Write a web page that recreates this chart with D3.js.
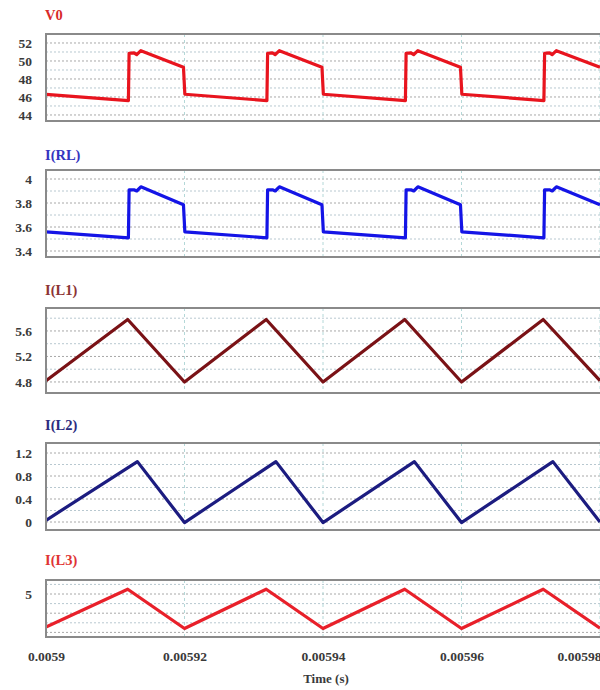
<!DOCTYPE html>
<html><head><meta charset="utf-8">
<script src="https://cdn.jsdelivr.net/npm/d3@7"></script>
<style>
body{margin:0;background:#fff;}
svg{display:block;}
text{font-family:"Liberation Serif","Times New Roman",serif;font-weight:bold;}
</style></head>
<body>
<svg id="chart" width="600" height="690"></svg>
<script>
// ---- data (time in microseconds) ----
const xTickValues = [0.0059, 0.00592, 0.00594, 0.00596, 0.00598];
const xTickLabels = ["0.0059", "0.00592", "0.00594", "0.00596", "0.00598"];
const xTitle = "Time (s)";

const v0Time   = [5900, 5911.9, 5912.0, 5912.7, 5913.1, 5913.7, 5919.85, 5920.05, 5931.9, 5932.0, 5932.7, 5933.1, 5933.7, 5939.85, 5940.05, 5951.9, 5952.0, 5952.7, 5953.1, 5953.7, 5959.85, 5960.05, 5971.9, 5972.0, 5972.7, 5973.1, 5973.7, 5980];
const v0Values = [46.3, 45.6, 50.85, 50.9, 50.7, 51.15, 49.3, 46.3, 45.6, 50.85, 50.9, 50.7, 51.15, 49.3, 46.3, 45.6, 50.85, 50.9, 50.7, 51.15, 49.3, 46.3, 45.6, 50.85, 50.9, 50.7, 51.15, 49.3];
const v0Ticks  = [44, 46, 48, 50, 52];

const rlTime   = [5900, 5911.9, 5912.0, 5912.7, 5913.1, 5913.7, 5919.85, 5920.05, 5931.9, 5932.0, 5932.7, 5933.1, 5933.7, 5939.85, 5940.05, 5951.9, 5952.0, 5952.7, 5953.1, 5953.7, 5959.85, 5960.05, 5971.9, 5972.0, 5972.7, 5973.1, 5973.7, 5980];
const rlValues = [3.56, 3.51, 3.91, 3.91, 3.9, 3.935, 3.785, 3.56, 3.51, 3.91, 3.91, 3.9, 3.935, 3.785, 3.56, 3.51, 3.91, 3.91, 3.9, 3.935, 3.785, 3.56, 3.51, 3.91, 3.91, 3.9, 3.935, 3.785];
const rlTicks  = [3.4, 3.6, 3.8, 4];
const rlTickLabels = ["3.4", "3.6", "3.8", "4"];

const l1Time   = [5900, 5911.8, 5920, 5931.8, 5940, 5951.8, 5960, 5971.8, 5980];
const l1Values = [4.82, 5.78, 4.8, 5.78, 4.8, 5.78, 4.8, 5.78, 4.82];
const l1Ticks  = [4.8, 5.2, 5.6];

const l2Time   = [5900, 5913.2, 5920, 5933.2, 5940, 5953.2, 5960, 5973.2, 5980];
const l2Values = [0.03, 1.05, -0.01, 1.05, -0.01, 1.05, -0.01, 1.05, 0.0];
const l2Ticks  = [0, 0.4, 0.8, 1.2];

const l3Time   = [5900, 5911.8, 5920, 5931.8, 5940, 5951.8, 5960, 5971.8, 5980];
const l3Values = [1.55, 5.5, 1.4, 5.5, 1.4, 5.5, 1.4, 5.5, 1.45];
const l3Ticks  = [5];

// ---- layout ----
const svg = d3.select("#chart");
const x = d3.scaleLinear().domain([0.0059, 0.00598]).range([46, 600]);
const boxLeft = 46, boxRight = 604;

const panels = [
  {label:"V0",    time:v0Time, values:v0Values, ticks:v0Ticks, fmt:d=>String(d), grid:[44,45,46,47,48,49,50,51,52], top:34,  bottom:121, domain:[43.33,53.0],  color:"#e8141e", labelColor:"#d82a2a", labelY:20},
  {label:"I(RL)", time:rlTime, values:rlValues, ticks:rlTicks, fmt:(d,i)=>rlTickLabels[i], grid:[3.4,3.5,3.6,3.7,3.8,3.9,4.0], top:170, bottom:257, domain:[3.35,4.075], color:"#1414e6", labelColor:"#3434c0", labelY:160},
  {label:"I(L1)", time:l1Time, values:l1Values, ticks:l1Ticks, fmt:d=>d.toFixed(1), grid:[4.8,5.0,5.2,5.4,5.6,5.8], top:308, bottom:393, domain:[4.627,5.96], color:"#7a1216", labelColor:"#8c3434", labelY:295},
  {label:"I(L2)", time:l2Time, values:l2Values, ticks:l2Ticks, fmt:d=>String(d), grid:[0,0.2,0.4,0.6,0.8,1.0,1.2], top:443, bottom:530, domain:[-0.139,1.374], color:"#1c1c80", labelColor:"#2c2c80", labelY:430},
  {label:"I(L3)", time:l3Time, values:l3Values, ticks:l3Ticks, fmt:d=>String(d), grid:[1,2,3,4,5,6], top:580, bottom:637, domain:[0.52,6.46], color:"#e8202a", labelColor:"#e03434", labelY:565}
];

panels.forEach((p, pi) => {
  const y = d3.scaleLinear().domain(p.domain).range([p.bottom, p.top]);
  const g = svg.append("g");
  const clipId = "clip" + pi;
  svg.append("clipPath").attr("id", clipId).append("rect")
    .attr("x", boxLeft).attr("y", p.top).attr("width", boxRight - boxLeft).attr("height", p.bottom - p.top);

  // label
  g.append("text").attr("x", 45).attr("y", p.labelY).attr("font-size", 14.5)
    .attr("fill", p.labelColor).text(p.label);

  // background
  g.append("rect").attr("x", boxLeft).attr("y", p.top).attr("width", boxRight - boxLeft)
    .attr("height", p.bottom - p.top).attr("fill", "#fff");

  // horizontal grid
  g.selectAll(".hg").data(p.grid).join("line")
    .attr("x1", boxLeft).attr("x2", boxRight)
    .attr("y1", d => y(d)).attr("y2", d => y(d))
    .attr("stroke", (d, i) => i % 2 ? "#b8c8d0" : "#a8a8a8")
    .attr("stroke-width", 1).attr("stroke-dasharray", "2,2");

  // vertical grid at x ticks
  g.selectAll(".vg").data(xTickValues).join("line")
    .attr("x1", d => x(d)).attr("x2", d => x(d))
    .attr("y1", p.top).attr("y2", p.bottom)
    .attr("stroke", "#b4d8d8").attr("stroke-width", 1).attr("stroke-dasharray", "3,3");

  // y axis labels via d3 axis
  const axis = d3.axisLeft(y).tickValues(p.ticks).tickFormat(p.fmt).tickSize(0).tickPadding(14);
  const ag = g.append("g").attr("transform", `translate(${boxLeft},0)`).call(axis);
  ag.select(".domain").remove();
  ag.selectAll("text").attr("font-size", 13.5).attr("fill", "#3a3a3a")
    .attr("font-family", "Liberation Serif, serif").attr("font-weight", "bold");

  // line
  const line = d3.line().x((d, i) => x(p.time[i] / 1e6)).y(d => y(d));
  g.append("path").datum(p.values).attr("d", line)
    .attr("clip-path", `url(#${clipId})`)
    .attr("fill", "none").attr("stroke", p.color).attr("stroke-width", 3.2)
    .attr("stroke-linejoin", "round");

  // frame
  g.append("rect").attr("x", boxLeft).attr("y", p.top).attr("width", boxRight - boxLeft)
    .attr("height", p.bottom - p.top).attr("fill", "none")
    .attr("stroke", "#8a8a8a").attr("stroke-width", 2);
});

// x axis labels
const xa = d3.axisBottom(x).tickValues(xTickValues).tickFormat((d, i) => xTickLabels[i]).tickSize(0).tickPadding(0);
const xg = svg.append("g").attr("transform", "translate(0,651)").call(xa);
xg.select(".domain").remove();
xg.selectAll("text").attr("font-size", 13.5).attr("fill", "#3a3a3a")
  .attr("font-family", "Liberation Serif, serif").attr("font-weight", "bold").attr("dy", "0.71em");
xg.selectAll(".tick").filter((d, i) => i === xTickValues.length - 1).select("text")
  .attr("text-anchor", "start").attr("dx", -43);

svg.append("text").attr("x", 326).attr("y", 683).attr("text-anchor", "middle")
  .attr("font-size", 13).attr("fill", "#3a3a3a").text(xTitle);
</script>
</body></html>
